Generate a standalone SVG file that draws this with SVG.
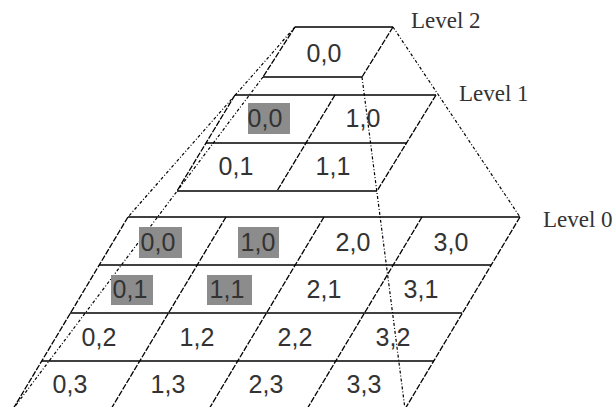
<svg xmlns="http://www.w3.org/2000/svg" width="614" height="407" viewBox="0 0 614 407">
<style>
.h{stroke:#000;stroke-width:1.6;fill:none}
.s{stroke:#000;stroke-width:1.3;fill:none;stroke-dasharray:6 1.5}
.c{stroke:#000;stroke-width:1.2;fill:none;stroke-dasharray:3 2 1 2}
.t{font-family:"Liberation Sans",Arial,sans-serif;font-size:25px;fill:#333;text-anchor:middle}
.lv{font-family:"Liberation Serif","Times New Roman",serif;font-size:23px;fill:#333}
.b{fill:#8c8c8c}
</style>
<rect width="614" height="407" fill="#fff"/>
<g id="connectors">
<line class="c" x1="393" y1="27" x2="520" y2="217"/>
<line class="c" x1="295" y1="27" x2="128" y2="217"/>
<line class="c" x1="263" y1="77" x2="13" y2="409"/>
<line class="c" x1="362" y1="77" x2="405" y2="409"/>
</g>
<g id="level2">
<line class="h" x1="295" y1="27" x2="393" y2="27"/>
<line class="h" x1="263" y1="77" x2="362" y2="77"/>
<line class="s" x1="295" y1="27" x2="263" y2="77"/>
<line class="s" x1="393" y1="27" x2="362" y2="77"/>
<text class="t" x="324" y="62">0,0</text>
<text class="lv" x="411" y="28">Level 2</text>
</g>
<g id="level1">
<line class="h" x1="235" y1="95" x2="436" y2="95"/>
<line class="h" x1="206" y1="143" x2="407" y2="143"/>
<line class="h" x1="177" y1="191" x2="377" y2="191"/>
<line class="s" x1="235" y1="95" x2="177" y2="191"/>
<line class="s" x1="335" y1="95" x2="277" y2="191"/>
<line class="s" x1="436" y1="95" x2="377" y2="191"/>
<rect class="b" x="248" y="103" width="42" height="31"/>
<text class="t" x="265" y="127">0,0</text>
<text class="t" x="363" y="127">1,0</text>
<text class="t" x="236" y="175">0,1</text>
<text class="t" x="333" y="175">1,1</text>
<text class="lv" x="459" y="101">Level 1</text>
</g>
<g id="level0">
<line class="h" x1="128" y1="217" x2="520" y2="217"/>
<line class="h" x1="99" y1="265" x2="491" y2="265"/>
<line class="h" x1="70" y1="313" x2="462" y2="313"/>
<line class="h" x1="42" y1="361" x2="434" y2="361"/>
<line class="s" x1="128" y1="217" x2="13" y2="409"/>
<line class="s" x1="226" y1="217" x2="111" y2="409"/>
<line class="s" x1="324" y1="217" x2="209" y2="409"/>
<line class="s" x1="422" y1="217" x2="307" y2="409"/>
<line class="s" x1="520" y1="217" x2="405" y2="409"/>
<rect class="b" x="139" y="227" width="43" height="31"/>
<rect class="b" x="238" y="227" width="41" height="31"/>
<rect class="b" x="111" y="275" width="42" height="30"/>
<rect class="b" x="207" y="275" width="45" height="30"/>
<text class="t" x="158" y="251">0,0</text>
<text class="t" x="258" y="251">1,0</text>
<text class="t" x="353" y="251">2,0</text>
<text class="t" x="451" y="251">3,0</text>
<text class="t" x="130" y="298">0,1</text>
<text class="t" x="227" y="298">1,1</text>
<text class="t" x="324" y="298">2,1</text>
<text class="t" x="421" y="298">3,1</text>
<text class="t" x="99" y="346">0,2</text>
<text class="t" x="197" y="346">1,2</text>
<text class="t" x="295" y="346">2,2</text>
<text class="t" x="393" y="346">3,2</text>
<text class="t" x="70" y="393">0,3</text>
<text class="t" x="168" y="393">1,3</text>
<text class="t" x="266" y="393">2,3</text>
<text class="t" x="364" y="393">3,3</text>
<text class="lv" x="543" y="227">Level 0</text>
</g>
</svg>
